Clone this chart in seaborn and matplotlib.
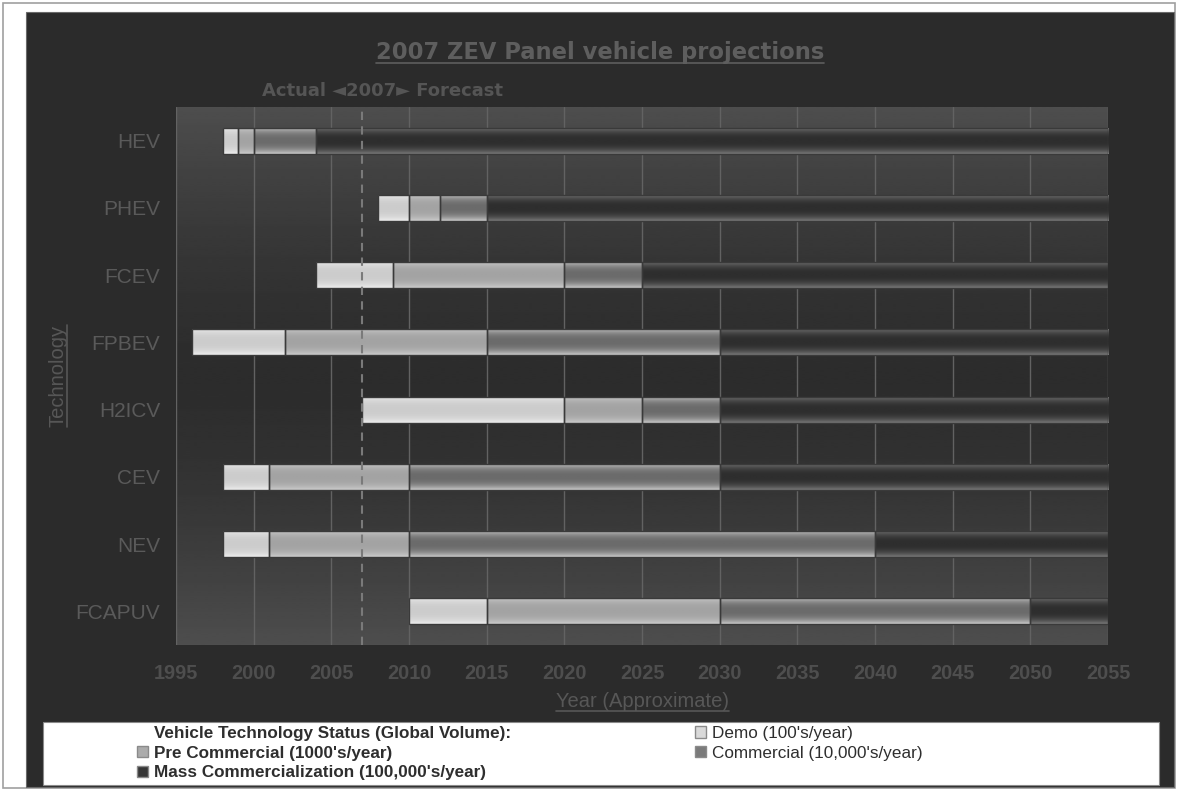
import numpy as np
import pandas as pd
import matplotlib
matplotlib.use("Agg")
import matplotlib.pyplot as plt
import matplotlib.transforms as mtransforms
from matplotlib.patches import Rectangle, Patch
from matplotlib.lines import Line2D
import seaborn as sns

W, H = 1177, 790

# ---- data -------------------------------------------------------------
technologies = ["HEV", "PHEV", "FCEV", "FPBEV", "H2ICV", "CEV", "NEV", "FCAPUV"]
demo_start = [1998, 2008, 2004, 1996, 2007, 1998, 1998, 2010]
precommercial_start = [1999, 2010, 2009, 2002, 2020, 2001, 2001, 2015]
commercial_start = [2000, 2012, 2020, 2015, 2025, 2010, 2010, 2030]
mass_start = [2004, 2015, 2025, 2030, 2030, 2030, 2040, 2050]
horizon_end = [2055, 2055, 2055, 2055, 2055, 2055, 2055, 2055]

stage_names = ["Demo", "Pre Commercial", "Commercial", "Mass Commercialization"]
stage_labels = ["Demo (100's/year)", "Pre Commercial (1000's/year)",
                "Commercial (10,000's/year)", "Mass Commercialization (100,000's/year)"]
legend_title = "Vehicle Technology Status (Global Volume):"

year_ticks = [1995, 2000, 2005, 2010, 2015, 2020, 2025, 2030, 2035, 2040, 2045, 2050, 2055]
forecast_year = 2007

# ---- styling ----------------------------------------------------------
stage_colors = ["#d9d9d9", "#ababab", "#7a7a7a", "#363636"]
# (edge highlight, centre) grey levels for the cylinder shading of each stage
stage_shades = [(0.93, 0.80), (0.80, 0.64), (0.80, 0.42), (0.48, 0.18)]

bounds = [demo_start, precommercial_start, commercial_start, mass_start, horizon_end]
rows = []
for k, name in enumerate(stage_names):
    for i, tech in enumerate(technologies):
        rows.append(dict(technology=tech, stage=name, order=i,
                         start=bounds[k][i], end=bounds[k + 1][i]))
df = pd.DataFrame(rows)
df["duration"] = df["end"] - df["start"]

sns.set_theme(style="white")
plt.rcParams["font.family"] = ["Liberation Sans", "DejaVu Sans"]

fig = plt.figure(figsize=(W / 100, H / 100), dpi=100, facecolor="white")


def fbox(x0, y0, x1, y1):
    """pixel box with top-left origin -> Rectangle args in figure fraction"""
    return (x0 / W, 1 - y1 / H), (x1 - x0) / W, (y1 - y0) / H


fig.add_artist(Rectangle(*fbox(3, 3, 1175, 788), transform=fig.transFigure,
                         facecolor="white", edgecolor="#a0a0a0", lw=1.2, zorder=-3))
fig.add_artist(Rectangle(*fbox(26, 12, 1174, 787), transform=fig.transFigure,
                         facecolor="#2b2b2b", edgecolor="#6a6a6a", lw=0.8, zorder=-2))
fig.add_artist(Rectangle(*fbox(43, 722, 1159, 785), transform=fig.transFigure,
                         facecolor="white", edgecolor="#8a8a8a", lw=0.8, zorder=1))

ax = fig.add_axes([176 / W, 1 - 645 / H, 932 / W, 538 / H])
ax.set_facecolor("none")

# plot-area backdrop: light at top and bottom, dark through the middle
tt = np.linspace(0, 1, 256)
backdrop = 0.175 + 0.13 * np.abs(2 * tt - 1) ** 1.6
ax.imshow(backdrop[:, None], cmap="gray", vmin=0, vmax=1, extent=(0, 1, 0, 1),
          transform=ax.transAxes, aspect="auto", interpolation="bilinear", zorder=-2)


def shade(patch, edge, centre):
    x0, y0 = patch.get_x(), patch.get_y()
    w, h = patch.get_width(), patch.get_height()
    t = np.linspace(0, 1, 64)
    prof = centre + (edge - centre) * np.abs(2 * t - 1) ** 2.5
    im = ax.imshow(prof[:, None], cmap="gray", vmin=0, vmax=1,
                   extent=(x0, x0 + w, y0 + h, y0), aspect="auto",
                   interpolation="bilinear", zorder=2.5)
    im.set_clip_path(patch)
    patch.set_facecolor("none")
    patch.set_zorder(3)


for k, name in enumerate(stage_names):
    sub = df[df["stage"] == name].sort_values("order")
    n0 = len(ax.patches)
    sns.barplot(data=sub, x="duration", y="technology", order=technologies,
                orient="h", left=sub["start"].to_numpy(), color=stage_colors[k],
                saturation=1, width=0.39, edgecolor="#3a3a3a", linewidth=1.0,
                errorbar=None, ax=ax, zorder=2)
    for p in ax.patches[n0:]:
        shade(p, *stage_shades[k])

ax.axvline(forecast_year, color="#7a7a7a", lw=1.5, ls=(0, (4, 3)), zorder=4)

ax.set_xlim(1995, 2055)
ax.set_ylim(len(technologies) - 0.5, -0.5)
ax.set_xticks(year_ticks)
ax.xaxis.grid(True, color="#626262", lw=1.0)
ax.yaxis.grid(False)
ax.set_axisbelow(True)
for s in ax.spines.values():
    s.set_visible(False)

ax.tick_params(axis="x", length=0, pad=14, labelsize=14.3, labelcolor="#4e4e4e")
ax.tick_params(axis="y", length=0, pad=11.5, labelsize=15, labelcolor="#5a5a5a")
for lbl in ax.get_xticklabels():
    lbl.set_fontweight("bold")

ax.set_xlabel("Year (Approximate)", fontsize=14.5, color="#575757")
ax.xaxis.set_label_coords(0.5, -(707 - 645) / 538)
ax.xaxis.label.set_va("baseline")
ax.set_ylabel("Technology", fontsize=14.5, color="#575757")
ax.yaxis.set_label_coords((63 - 176) / 932, 0.5)
ax.yaxis.label.set_va("baseline")

title = fig.text(600 / W, 1 - 59 / H, "2007 ZEV Panel vehicle projections",
                 ha="center", va="baseline", fontsize=16.3, fontweight="bold",
                 family="DejaVu Sans", color="#5e5e5e")
fig.text(382 / W, 1 - 96 / H, "Actual \u25c42007\u25ba Forecast", ha="center",
         va="baseline", fontsize=13, fontweight="bold", family="DejaVu Sans",
         color="#555555")

# legend: header plus two columns of stage swatches
left_handles = [Patch(facecolor="none", edgecolor="none"),
                Patch(facecolor=stage_colors[1], edgecolor="#8a8a8a"),
                Patch(facecolor=stage_colors[3], edgecolor="#8a8a8a")]
leg1 = fig.legend(left_handles, [legend_title, stage_labels[1], stage_labels[3]],
                  loc="upper left", bbox_to_anchor=(137 / W, 1 - 726 / H),
                  frameon=False, fontsize=12.3, handlelength=0.65, handleheight=0.65,
                  handletextpad=0.35, labelspacing=0.27, borderpad=0, borderaxespad=0)
for t in leg1.get_texts():
    t.set_fontweight("bold")
    t.set_color("#2e2e2e")

right_handles = [Patch(facecolor=stage_colors[0], edgecolor="#8a8a8a"),
                 Patch(facecolor=stage_colors[2], edgecolor="#8a8a8a")]
leg2 = fig.legend(right_handles, [stage_labels[0], stage_labels[2]],
                  loc="upper left", bbox_to_anchor=(695 / W, 1 - 726 / H),
                  frameon=False, fontsize=12.3, handlelength=0.65, handleheight=0.65,
                  handletextpad=0.35, labelspacing=0.27, borderpad=0, borderaxespad=0)
for t in leg2.get_texts():
    t.set_color("#2e2e2e")

# underline the title and both axis labels
fig.canvas.draw()
renderer = fig.canvas.get_renderer()
ident = mtransforms.IdentityTransform()


def underline(txt, gap, vertical=False, color="#5e5e5e"):
    bb = txt.get_window_extent(renderer)
    ax_, ay_ = txt.get_transform().transform(txt.get_position())
    if vertical:
        line = Line2D([ax_ + gap, ax_ + gap], [bb.y0, bb.y1], transform=ident,
                      color=color, lw=1.2)
    else:
        line = Line2D([bb.x0, bb.x1], [ay_ - gap, ay_ - gap], transform=ident,
                      color=color, lw=1.2)
    fig.add_artist(line)


underline(title, 4)
underline(ax.xaxis.label, 4, color="#575757")
underline(ax.yaxis.label, 4, vertical=True, color="#575757")

fig.savefig("out.png", dpi=100, facecolor="white")
